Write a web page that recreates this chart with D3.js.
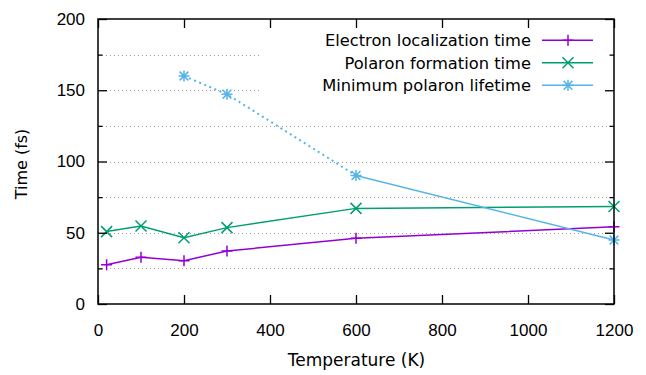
<!DOCTYPE html>
<html><head><meta charset="utf-8">
<script src="https://cdn.jsdelivr.net/npm/d3@7"></script>
<style>body{margin:0;background:#fff}svg{display:block}text{font-family:"DejaVu Sans",sans-serif;}</style>
</head><body>
<svg id="c" width="646" height="375"></svg>
<script>
const seriesNames = ["Electron localization time","Polaron formation time","Minimum polaron lifetime"];
const seriesColors = ["#9400d3","#009e73","#56b4e9"];
const elecT = [20,100,200,300,600,1200];
const elecV = [27.5,32.8,30.4,37.2,46.1,54.2];
const polT = [20,100,200,300,600,1200];
const polV = [50.8,54.8,46.5,53.6,67.1,68.4];
const lifeT = [200,300,600,1200];
const lifeV = [160,147.2,90.2,44.9];
const xTicks = [0,200,400,600,800,1000,1200];
const yTicks = [0,50,100,150,200];
const yMinor = [25,75,125,175];

const svg = d3.select("#c");
const L=98,R=614,T=19,B=304;
const x = d3.scaleLinear().domain([0,1200]).range([L,R]);
const y = d3.scaleLinear().domain([0,200]).range([B,T]);
const fs = 16.3;
const tickFont = "'Liberation Sans', Arial, sans-serif";
const tickFs = 17;

const gridVals = [...yTicks.slice(1,-1), ...yMinor];
const legendBox = {x0:262, y0:28, x1:604, y1:100};
const g = svg.append("g");
gridVals.forEach(v=>{
  const yy = Math.round(y(v))+0.5;
  const inLegend = yy>legendBox.y0 && yy<legendBox.y1;
  g.append("line").attr("x1",L).attr("x2",inLegend?legendBox.x0:R).attr("y1",yy).attr("y2",yy)
   .attr("stroke","#a0a0a0").attr("stroke-width",1).attr("stroke-dasharray","1,3");
});

const line = d3.line().x(d=>x(d[0])).y(d=>y(d[1]));
const plot = svg.append("g");
const marker = (sel, type, cx, cy, color) => {
  const s=5.5;
  const p = sel.append("path").attr("stroke",color).attr("stroke-width",1.5).attr("fill","none");
  let d="";
  if(type==="plus") d=`M${cx-s},${cy}H${cx+s}M${cx},${cy-s}V${cy+s}`;
  else if(type==="cross") d=`M${cx-s},${cy-s}L${cx+s},${cy+s}M${cx-s},${cy+s}L${cx+s},${cy-s}`;
  else d=`M${cx-s},${cy}H${cx+s}M${cx},${cy-s}V${cy+s}M${cx-s*0.8},${cy-s*0.8}L${cx+s*0.8},${cy+s*0.8}M${cx-s*0.8},${cy+s*0.8}L${cx+s*0.8},${cy-s*0.8}`;
  p.attr("d",d);
};
const e = elecT.map((t,i)=>[t,elecV[i]]);
const p = polT.map((t,i)=>[t,polV[i]]);
const l = lifeT.map((t,i)=>[t,lifeV[i]]);
plot.append("path").attr("d",line(e)).attr("stroke",seriesColors[0]).attr("stroke-width",1.5).attr("fill","none");
plot.append("path").attr("d",line(p)).attr("stroke",seriesColors[1]).attr("stroke-width",1.5).attr("fill","none");
plot.append("path").attr("d",line(l.slice(0,3))).attr("stroke",seriesColors[2]).attr("stroke-width",2).attr("fill","none").attr("stroke-dasharray","2,3.5");
plot.append("path").attr("d",line(l.slice(2))).attr("stroke",seriesColors[2]).attr("stroke-width",1.5).attr("fill","none");
e.forEach(d=>marker(plot,"plus",x(d[0]),y(d[1]),seriesColors[0]));
p.forEach(d=>marker(plot,"cross",x(d[0]),y(d[1]),seriesColors[1]));
l.forEach(d=>marker(plot,"star",x(d[0]),y(d[1]),seriesColors[2]));

const fmt = d3.format("d");
const axB = svg.append("g").attr("transform",`translate(0,${B})`)
  .call(d3.axisBottom(x).tickValues(xTicks).tickSizeInner(-9).tickSizeOuter(0).tickPadding(20).tickFormat(fmt));
const axT = svg.append("g").attr("transform",`translate(0,${T})`)
  .call(d3.axisTop(x).tickValues(xTicks).tickSizeInner(-9).tickSizeOuter(0).tickFormat(""));
const axL = svg.append("g").attr("transform",`translate(${L},0)`)
  .call(d3.axisLeft(y).tickValues(yTicks).tickSizeInner(-9).tickSizeOuter(0).tickPadding(13).tickFormat(fmt));
const axR = svg.append("g").attr("transform",`translate(${R},0)`)
  .call(d3.axisRight(y).tickValues(yTicks).tickSizeInner(-9).tickSizeOuter(0).tickFormat(""));
const axLm = svg.append("g").attr("transform",`translate(${L},0)`)
  .call(d3.axisLeft(y).tickValues(yMinor).tickSizeInner(-4.5).tickSizeOuter(0).tickFormat(""));
const axRm = svg.append("g").attr("transform",`translate(${R},0)`)
  .call(d3.axisRight(y).tickValues(yMinor).tickSizeInner(-4.5).tickSizeOuter(0).tickFormat(""));
[axB,axT,axL,axR,axLm,axRm].forEach(a=>{
  a.select(".domain").remove();
  a.selectAll("line").attr("stroke","#000").attr("stroke-width",1.3);
  a.selectAll("text").style("font-size",tickFs+"px").attr("fill","#000").style("font-family",tickFont);
});
svg.append("rect").attr("x",L).attr("y",T).attr("width",R-L).attr("height",B-T)
  .attr("fill","none").attr("stroke","#000").attr("stroke-width",1.5);

svg.append("text").attr("x",356.5).attr("y",365.5).attr("text-anchor","middle").attr("font-size",17).text("Temperature (K)");
svg.append("text").attr("transform",`translate(27,164) rotate(-90)`).attr("text-anchor","middle").attr("font-size",16).text("Time (fs)");

const types=["plus","cross","star"];
seriesNames.forEach((n,i)=>{
  const yy = 40.3 + i*22.5;
  svg.append("text").attr("x",531).attr("y",yy).attr("dy","0.36em").attr("text-anchor","end").attr("font-size",fs).text(n);
  svg.append("line").attr("x1",542).attr("x2",593).attr("y1",yy).attr("y2",yy).attr("stroke",seriesColors[i]).attr("stroke-width",1.5);
  marker(svg,types[i],568,yy,seriesColors[i]);
});
</script>
</body></html>
